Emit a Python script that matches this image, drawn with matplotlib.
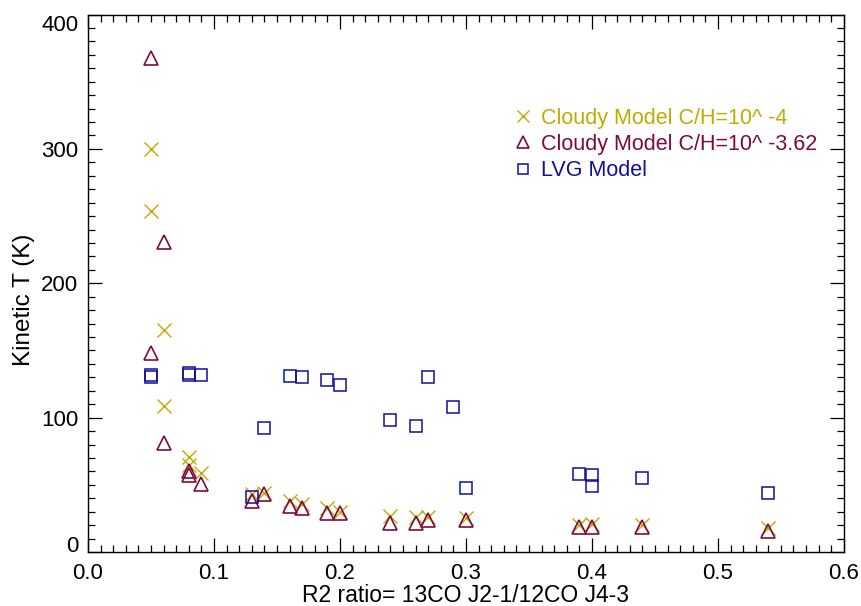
import matplotlib
matplotlib.use("Agg")
import matplotlib.pyplot as plt
from matplotlib.ticker import MultipleLocator

# Cloudy model, C/H = 10^-4
x_c4 = [0.05, 0.05, 0.06, 0.06, 0.08, 0.08, 0.09, 0.13, 0.14, 0.16, 0.17,
        0.19, 0.20, 0.24, 0.26, 0.27, 0.30, 0.39, 0.40, 0.44, 0.54]
t_c4 = [300, 254, 165, 109, 71, 65, 59, 43, 44, 38, 36,
        33, 30, 27, 26, 26, 25, 20, 21, 20, 18]

# Cloudy model, C/H = 10^-3.62
x_c362 = [0.05, 0.06, 0.05, 0.06, 0.08, 0.08, 0.09, 0.13, 0.14, 0.16, 0.17,
          0.19, 0.20, 0.24, 0.26, 0.27, 0.30, 0.39, 0.40, 0.44, 0.54]
t_c362 = [368, 231, 148, 81, 60, 57, 51, 38, 43, 34, 33,
          29, 29, 22, 22, 24, 24, 19, 19, 19, 16]

# LVG model
x_lvg = [0.05, 0.05, 0.08, 0.08, 0.09, 0.13, 0.14, 0.16, 0.17, 0.19, 0.20,
         0.24, 0.26, 0.27, 0.29, 0.30, 0.39, 0.40, 0.40, 0.44, 0.54]
t_lvg = [132, 130, 133, 132, 132, 41, 92, 131, 130, 128, 124,
         98, 94, 130, 108, 48, 58, 57, 49, 55, 44]

yticks = [0, 100, 200, 300, 400]

col_c4 = "#c2ab00"
col_c362 = "#7d0a3c"
col_lvg = "#10109c"

plt.rcParams["font.family"] = ["Liberation Sans", "DejaVu Sans"]

fig = plt.figure(figsize=(8.62, 6.06), dpi=100)
ax = fig.add_axes([0.102, 0.089, 0.877, 0.887])

ax.plot(x_c4, t_c4, ls="none", marker="x", ms=10, mew=1.0, color=col_c4,
        label="Cloudy Model C/H=10^ -4")
ax.plot(x_c362, t_c362, ls="none", marker="^", ms=10.5, mew=1.2, mfc="none",
        color=col_c362, label="Cloudy Model C/H=10^ -3.62")
ax.plot(x_lvg, t_lvg, ls="none", marker="s", ms=9, mew=1.1, mfc="none",
        color=col_lvg, label="LVG Model")

ax.set_xlim(0, 0.6)
ax.set_ylim(0, 400)
ax.xaxis.set_major_locator(MultipleLocator(0.1))
ax.xaxis.set_minor_locator(MultipleLocator(0.01))
ax.set_yticks(yticks)
ax.yaxis.set_minor_locator(MultipleLocator(10))
ax.xaxis.set_major_formatter(plt.FormatStrFormatter("%.1f"))
ax.tick_params(which="both", direction="in", top=True, right=True,
               labelsize=16, width=0.9)
ax.tick_params(which="major", length=10)
ax.tick_params(which="minor", length=5)
ax.tick_params(axis="x", which="major", pad=8)
ax.tick_params(axis="y", which="major", pad=7)
for s in ax.spines.values():
    s.set_linewidth(1.0)

ax.set_xlabel("R2 ratio= 13CO J2-1/12CO J4-3", fontsize=16.5, labelpad=0)
ax.set_ylabel("Kinetic T (K)", fontsize=17.5)
ax.yaxis.set_label_coords(-0.07, 0.47)

ax.legend(loc="upper left", bbox_to_anchor=(0.553, 0.843), frameon=False,
          fontsize=15.5, labelcolor="linecolor", markerscale=0.8,
          handlelength=0.8, handletextpad=0.45, labelspacing=0.25,
          borderaxespad=0)

# end labels of the y axis sit inside the axis range, IDL style
fig.canvas.draw()
for tick in ax.yaxis.get_major_ticks():
    loc = tick.get_loc()
    if loc == yticks[0]:
        tick.label1.set_va("baseline")
    elif loc == yticks[-1]:
        tick.label1.set_va("top")
    else:
        tick.label1.set_va("center_baseline")

fig.savefig("out.png", dpi=100)
